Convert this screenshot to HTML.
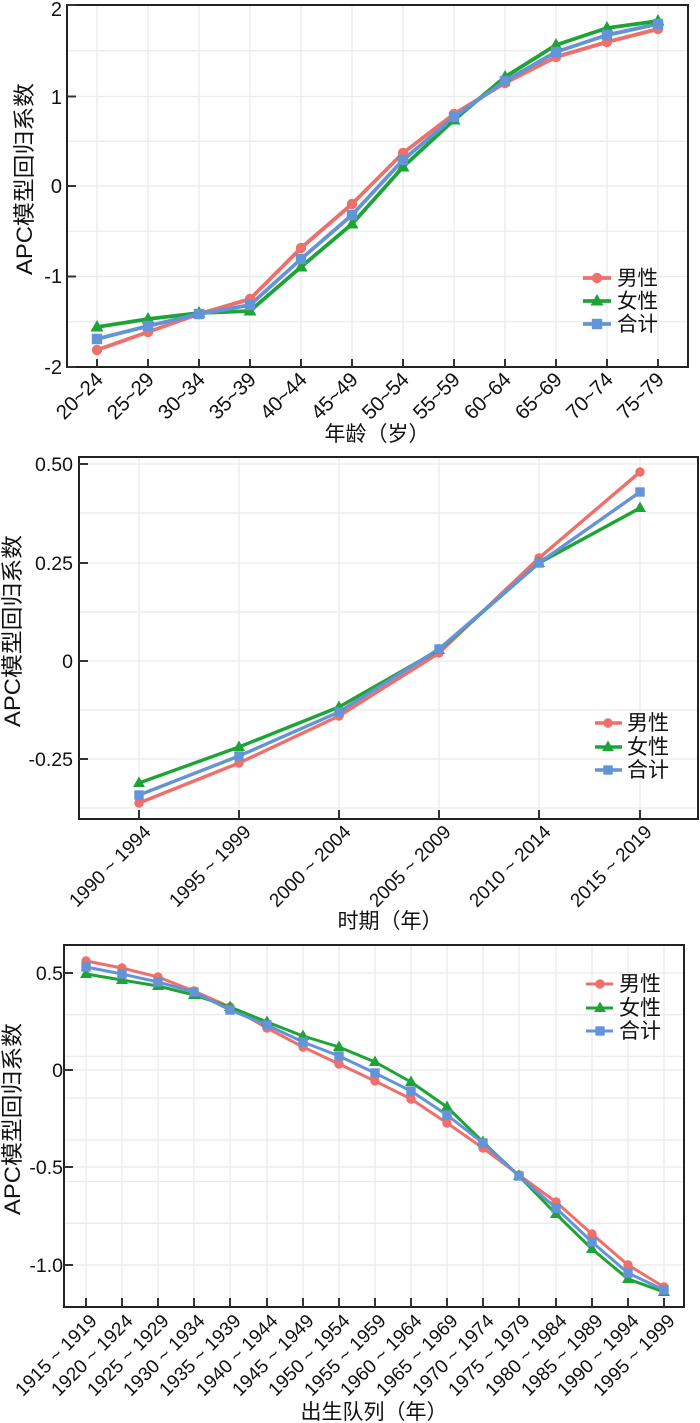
<!DOCTYPE html>
<html><head><meta charset="utf-8"><style>
html,body{margin:0;padding:0;background:#fff;}
svg{display:block;}
text{font-family:"Liberation Sans","Noto Sans CJK SC",sans-serif;fill:#111;}
.cj{font-family:"Liberation Sans","Noto Sans CJK SC",sans-serif;}
.g{stroke:#ebebeb;stroke-width:1.3;fill:none;}
.ax{stroke:#222;stroke-width:2;fill:none;}
.tk{stroke:#333;stroke-width:2;}
.r{stroke:#EF6F6A;stroke-width:3;fill:none;stroke-linejoin:round;}
.gr{stroke:#1EA436;stroke-width:3;fill:none;stroke-linejoin:round;}
.b{stroke:#6494D8;stroke-width:3;fill:none;stroke-linejoin:round;}
.thick .r,.thick .gr,.thick .b{stroke-width:3.8;}
.mid .r,.mid .gr,.mid .b{stroke-width:3.4;}
</style></head><body>
<svg width="700" height="1423" viewBox="0 0 700 1423" xmlns="http://www.w3.org/2000/svg">
<defs>
<circle id="mc" r="4.7" fill="#EF6F6A"/>
<polygon id="mt" points="0,-6.5 6,4 -6,4" fill="#1EA436"/>
<rect id="ms" x="-4.7" y="-4.7" width="9.4" height="9.4" fill="#6494D8"/>
<circle id="mc2" r="5.2" fill="#EF6F6A"/>
<polygon id="mt2" points="0,-7 6.5,4.5 -6.5,4.5" fill="#1EA436"/>
<rect id="ms2" x="-5.2" y="-5.2" width="10.4" height="10.4" fill="#6494D8"/>
</defs>

<!-- ================= TOP CHART ================= -->
<g class="thick">
<path class="g" d="M67,50.75H688M67,96.5H688M67,141.25H688M67,186H688M67,231.25H688M67,276.5H688M67,321.75H688"/>
<path class="g" d="M97,5V367M148,5V367M199,5V367M250,5V367M301,5V367M352,5V367M403,5V367M454,5V367M505,5V367M556,5V367M607,5V367M658,5V367"/>
<rect class="ax" x="67" y="5" width="621" height="362"/>
<path class="tk" d="M67,5H76M67,96.5H76M67,186H76M67,276.5H76M67,367H76"/>
<path class="tk" d="M97,367V359M148,367V359M199,367V359M250,367V359M301,367V359M352,367V359M403,367V359M454,367V359M505,367V359M556,367V359M607,367V359M658,367V359"/>
<g font-size="20" text-anchor="end">
<text x="62" y="16">2</text>
<text x="62" y="104">1</text>
<text x="62" y="193">0</text>
<text x="62" y="283">-1</text>
<text x="62" y="374">-2</text>
</g>
<g font-size="20.5" text-anchor="end" letter-spacing="-0.3">
<text x="104" y="381" transform="rotate(-45 104 381)">20~24</text>
<text x="155" y="381" transform="rotate(-45 155 381)">25~29</text>
<text x="206" y="381" transform="rotate(-45 206 381)">30~34</text>
<text x="257" y="381" transform="rotate(-45 257 381)">35~39</text>
<text x="308" y="381" transform="rotate(-45 308 381)">40~44</text>
<text x="359" y="381" transform="rotate(-45 359 381)">45~49</text>
<text x="410" y="381" transform="rotate(-45 410 381)">50~54</text>
<text x="461" y="381" transform="rotate(-45 461 381)">55~59</text>
<text x="512" y="381" transform="rotate(-45 512 381)">60~64</text>
<text x="563" y="381" transform="rotate(-45 563 381)">65~69</text>
<text x="614" y="381" transform="rotate(-45 614 381)">70~74</text>
<text x="665" y="381" transform="rotate(-45 665 381)">75~79</text>
</g>
<text class="cj" x="377" y="441" font-size="21" text-anchor="middle">年龄（岁）</text>
<text class="cj" x="32" y="179" font-size="22" text-anchor="middle" textLength="192" lengthAdjust="spacingAndGlyphs" transform="rotate(-90 32 179)">APC模型回归系数</text>

<polyline class="r" points="97,350 148,332 199,314 250,299 301,248 352,204 403,153 454,114 505,83 556,57 607,42 658,29"/>
<polyline class="gr" points="97,327 148,319 199,313 250,311 301,267 352,224 403,167 454,120 505,77 556,45 607,28 658,21"/>
<polyline class="b" points="97,339 148,326 199,314 250,305 301,259 352,215 403,160 454,117 505,81 556,52 607,35 658,24"/>
<g>
<use href="#mc2" x="97" y="350"/><use href="#mc2" x="148" y="332"/><use href="#mc2" x="199" y="314"/><use href="#mc2" x="250" y="299"/><use href="#mc2" x="301" y="248"/><use href="#mc2" x="352" y="204"/><use href="#mc2" x="403" y="153"/><use href="#mc2" x="454" y="114"/><use href="#mc2" x="505" y="83"/><use href="#mc2" x="556" y="57"/><use href="#mc2" x="607" y="42"/><use href="#mc2" x="658" y="29"/>
<use href="#mt2" x="97" y="327"/><use href="#mt2" x="148" y="319"/><use href="#mt2" x="199" y="313"/><use href="#mt2" x="250" y="311"/><use href="#mt2" x="301" y="267"/><use href="#mt2" x="352" y="224"/><use href="#mt2" x="403" y="167"/><use href="#mt2" x="454" y="120"/><use href="#mt2" x="505" y="77"/><use href="#mt2" x="556" y="45"/><use href="#mt2" x="607" y="28"/><use href="#mt2" x="658" y="21"/>
<use href="#ms2" x="97" y="339"/><use href="#ms2" x="148" y="326"/><use href="#ms2" x="199" y="314"/><use href="#ms2" x="250" y="305"/><use href="#ms2" x="301" y="259"/><use href="#ms2" x="352" y="215"/><use href="#ms2" x="403" y="160"/><use href="#ms2" x="454" y="117"/><use href="#ms2" x="505" y="81"/><use href="#ms2" x="556" y="52"/><use href="#ms2" x="607" y="35"/><use href="#ms2" x="658" y="24"/>
</g>
<!-- legend -->
<path class="r" d="M583,278H611"/><use href="#mc2" x="597" y="278"/>
<path class="gr" d="M583,301H611"/><use href="#mt2" x="597" y="301"/>
<path class="b" d="M583,324H611"/><use href="#ms2" x="597" y="324"/>
<g font-size="20.5" class="cj">
<text x="617" y="285">男性</text>
<text x="617" y="308">女性</text>
<text x="617" y="331">合计</text>
</g>
</g>

<!-- ================= MIDDLE CHART ================= -->
<g class="mid">
<path class="g" d="M79,464H698M79,513H698M79,563H698M79,612H698M79,661H698M79,710H698M79,759H698M79,808H698"/>
<path class="g" d="M139,457V819M239,457V819M339,457V819M439,457V819M539,457V819M640,457V819"/>
<rect class="ax" x="79" y="457" width="619" height="362"/>
<path class="tk" d="M79,464H88M79,563H88M79,661H88M79,759H88"/>
<path class="tk" d="M139,819V810M239,819V810M339,819V810M439,819V810M539,819V810M640,819V810"/>
<g font-size="19.5" text-anchor="end">
<text x="73" y="471">0.50</text>
<text x="73" y="570">0.25</text>
<text x="73" y="668">0</text>
<text x="73" y="766">-0.25</text>
</g>
<g font-size="19" text-anchor="end">
<text x="152" y="833" transform="rotate(-45 152 833)">1990 ~ 1994</text>
<text x="252" y="833" transform="rotate(-45 252 833)">1995 ~ 1999</text>
<text x="352" y="833" transform="rotate(-45 352 833)">2000 ~ 2004</text>
<text x="452" y="833" transform="rotate(-45 452 833)">2005 ~ 2009</text>
<text x="552" y="833" transform="rotate(-45 552 833)">2010 ~ 2014</text>
<text x="653" y="833" transform="rotate(-45 653 833)">2015 ~ 2019</text>
</g>
<text class="cj" x="390" y="928" font-size="21" text-anchor="middle">时期（年）</text>
<text class="cj" x="20" y="631" font-size="22" text-anchor="middle" textLength="192" lengthAdjust="spacingAndGlyphs" transform="rotate(-90 20 631)">APC模型回归系数</text>

<polyline class="r" points="139,803 239,763 339,716 439,653 539,558 640,472"/>
<polyline class="gr" points="139,783 239,747 339,707 439,650 539,563 640,508"/>
<polyline class="b" points="139,795 239,756 339,712 439,649 539,563 640,492"/>
<g>
<use href="#mc" x="139" y="803"/><use href="#mc" x="239" y="763"/><use href="#mc" x="339" y="716"/><use href="#mc" x="439" y="653"/><use href="#mc" x="539" y="558"/><use href="#mc" x="640" y="472"/>
<use href="#mt" x="139" y="783"/><use href="#mt" x="239" y="747"/><use href="#mt" x="339" y="707"/><use href="#mt" x="439" y="650"/><use href="#mt" x="539" y="563"/><use href="#mt" x="640" y="508"/>
<use href="#ms" x="139" y="795"/><use href="#ms" x="239" y="756"/><use href="#ms" x="339" y="712"/><use href="#ms" x="439" y="649"/><use href="#ms" x="539" y="563"/><use href="#ms" x="640" y="492"/>
</g>
<path class="r" d="M595,723H622"/><use href="#mc" x="608" y="723"/>
<path class="gr" d="M595,747H622"/><use href="#mt" x="608" y="747"/>
<path class="b" d="M595,770H622"/><use href="#ms" x="608" y="770"/>
<g font-size="21" class="cj">
<text x="627" y="730">男性</text>
<text x="627" y="754">女性</text>
<text x="627" y="777">合计</text>
</g>
</g>

<!-- ================= BOTTOM CHART ================= -->
<g>
<path class="g" d="M64,973H684M64,1014.7H684M64,1056.4H684M64,1098.1H684M64,1139.9H684M64,1181.6H684M64,1223.3H684M64,1265H684M64,1070H684M64,1167H684"/>
<path class="g" d="M86,945V1307M122,945V1307M158,945V1307M194,945V1307M230,945V1307M267,945V1307M303,945V1307M339,945V1307M375,945V1307M411,945V1307M447,945V1307M483,945V1307M519,945V1307M556,945V1307M592,945V1307M628,945V1307M664,945V1307"/>
<rect class="ax" x="64" y="945" width="620" height="362"/>
<path class="tk" d="M64,973H73M64,1070H73M64,1167H73M64,1265H73"/>
<path class="tk" d="M86,1307V1298M122,1307V1298M158,1307V1298M194,1307V1298M230,1307V1298M267,1307V1298M303,1307V1298M339,1307V1298M375,1307V1298M411,1307V1298M447,1307V1298M483,1307V1298M519,1307V1298M556,1307V1298M592,1307V1298M628,1307V1298M664,1307V1298"/>
<g font-size="19.5" text-anchor="end">
<text x="63" y="980">0.5</text>
<text x="63" y="1077">0</text>
<text x="63" y="1174">-0.5</text>
<text x="63" y="1272">-1.0</text>
</g>
<g font-size="19" text-anchor="end">
<text x="98" y="1322" transform="rotate(-45 98 1322)">1915 ~ 1919</text>
<text x="134" y="1322" transform="rotate(-45 134 1322)">1920 ~ 1924</text>
<text x="170" y="1322" transform="rotate(-45 170 1322)">1925 ~ 1929</text>
<text x="206" y="1322" transform="rotate(-45 206 1322)">1930 ~ 1934</text>
<text x="242" y="1322" transform="rotate(-45 242 1322)">1935 ~ 1939</text>
<text x="279" y="1322" transform="rotate(-45 279 1322)">1940 ~ 1944</text>
<text x="315" y="1322" transform="rotate(-45 315 1322)">1945 ~ 1949</text>
<text x="351" y="1322" transform="rotate(-45 351 1322)">1950 ~ 1954</text>
<text x="387" y="1322" transform="rotate(-45 387 1322)">1955 ~ 1959</text>
<text x="423" y="1322" transform="rotate(-45 423 1322)">1960 ~ 1964</text>
<text x="459" y="1322" transform="rotate(-45 459 1322)">1965 ~ 1969</text>
<text x="495" y="1322" transform="rotate(-45 495 1322)">1970 ~ 1974</text>
<text x="531" y="1322" transform="rotate(-45 531 1322)">1975 ~ 1979</text>
<text x="568" y="1322" transform="rotate(-45 568 1322)">1980 ~ 1984</text>
<text x="604" y="1322" transform="rotate(-45 604 1322)">1985 ~ 1989</text>
<text x="640" y="1322" transform="rotate(-45 640 1322)">1990 ~ 1994</text>
<text x="676" y="1322" transform="rotate(-45 676 1322)">1995 ~ 1999</text>
</g>
<text class="cj" x="374" y="1419" font-size="21" text-anchor="middle">出生队列（年）</text>
<text class="cj" x="20" y="1119" font-size="22" text-anchor="middle" textLength="192" lengthAdjust="spacingAndGlyphs" transform="rotate(-90 20 1119)">APC模型回归系数</text>

<polyline class="r" points="86,961 122,968 158,977 194,991 230,1007 267,1028 303,1047 339,1064 375,1081 411,1099 447,1123 483,1148 519,1175 556,1202 592,1234 628,1265 664,1287"/>
<polyline class="gr" points="86,974 122,980 158,986 194,995 230,1007 267,1022 303,1036 339,1047 375,1062 411,1082 447,1107 483,1142 519,1176 556,1214 592,1249 628,1279 664,1292"/>
<polyline class="b" points="86,967 122,974 158,982 194,992 230,1010 267,1025 303,1042 339,1056 375,1073 411,1091 447,1115 483,1143 519,1176 556,1208 592,1242 628,1273 664,1290"/>
<g>
<use href="#mc" x="86" y="961"/><use href="#mc" x="122" y="968"/><use href="#mc" x="158" y="977"/><use href="#mc" x="194" y="991"/><use href="#mc" x="230" y="1007"/><use href="#mc" x="267" y="1028"/><use href="#mc" x="303" y="1047"/><use href="#mc" x="339" y="1064"/><use href="#mc" x="375" y="1081"/><use href="#mc" x="411" y="1099"/><use href="#mc" x="447" y="1123"/><use href="#mc" x="483" y="1148"/><use href="#mc" x="519" y="1175"/><use href="#mc" x="556" y="1202"/><use href="#mc" x="592" y="1234"/><use href="#mc" x="628" y="1265"/><use href="#mc" x="664" y="1287"/>
<use href="#mt" x="86" y="974"/><use href="#mt" x="122" y="980"/><use href="#mt" x="158" y="986"/><use href="#mt" x="194" y="995"/><use href="#mt" x="230" y="1007"/><use href="#mt" x="267" y="1022"/><use href="#mt" x="303" y="1036"/><use href="#mt" x="339" y="1047"/><use href="#mt" x="375" y="1062"/><use href="#mt" x="411" y="1082"/><use href="#mt" x="447" y="1107"/><use href="#mt" x="483" y="1142"/><use href="#mt" x="519" y="1176"/><use href="#mt" x="556" y="1214"/><use href="#mt" x="592" y="1249"/><use href="#mt" x="628" y="1279"/><use href="#mt" x="664" y="1292"/>
<use href="#ms" x="86" y="967"/><use href="#ms" x="122" y="974"/><use href="#ms" x="158" y="982"/><use href="#ms" x="194" y="992"/><use href="#ms" x="230" y="1010"/><use href="#ms" x="267" y="1025"/><use href="#ms" x="303" y="1042"/><use href="#ms" x="339" y="1056"/><use href="#ms" x="375" y="1073"/><use href="#ms" x="411" y="1091"/><use href="#ms" x="447" y="1115"/><use href="#ms" x="483" y="1143"/><use href="#ms" x="519" y="1176"/><use href="#ms" x="556" y="1208"/><use href="#ms" x="592" y="1242"/><use href="#ms" x="628" y="1273"/><use href="#ms" x="664" y="1290"/>
</g>
<path class="r" d="M586,984H613"/><use href="#mc" x="600" y="984"/>
<path class="gr" d="M586,1008H613"/><use href="#mt" x="600" y="1008"/>
<path class="b" d="M586,1031H613"/><use href="#ms" x="600" y="1031"/>
<g font-size="21" class="cj">
<text x="619" y="991">男性</text>
<text x="619" y="1015">女性</text>
<text x="619" y="1038">合计</text>
</g>
</g>
</svg>
</body></html>
